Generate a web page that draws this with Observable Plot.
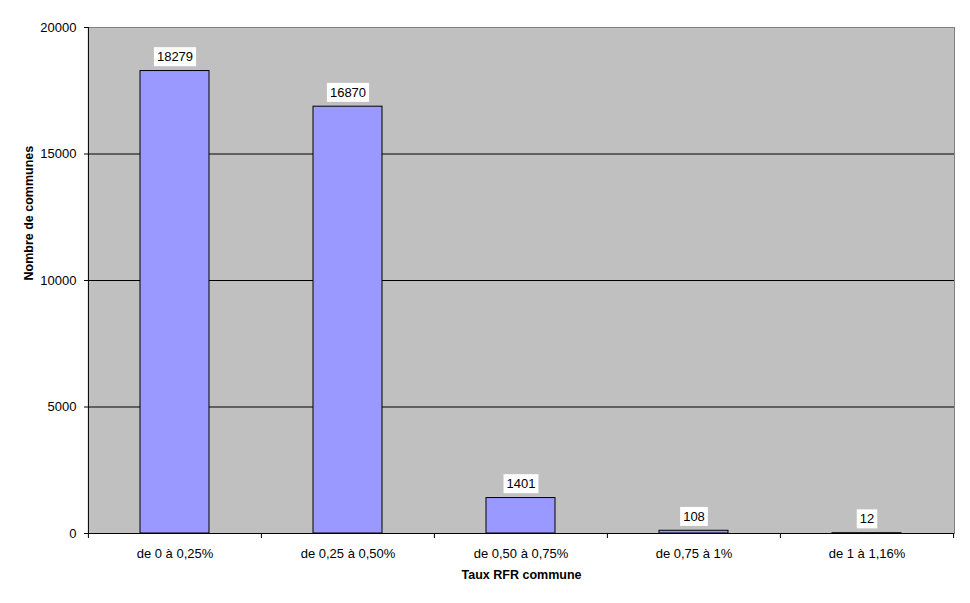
<!DOCTYPE html>
<html>
<head>
<meta charset="utf-8">
<script src="https://cdn.jsdelivr.net/npm/d3@7"></script>
<script src="https://cdn.jsdelivr.net/npm/@observablehq/plot@0.6"></script>
<style>
  body { margin: 0; background: #fff; }
  #chart svg { display: block; }
</style>
</head>
<body>
<div id="chart"></div>
<script>
const categories = ["de 0 à 0,25%", "de 0,25 à 0,50%", "de 0,50 à 0,75%", "de 0,75 à 1%", "de 1 à 1,16%"];
const counts = [18279, 16870, 1401, 108, 12];
const yTicks = [0, 5000, 10000, 15000, 20000];
const gridValues = [5000, 10000, 15000];
const xTitle = "Taux RFR commune";
const yTitle = "Nombre de communes";

const data = categories.map((c, i) => ({category: c, count: counts[i]}));

const W = 970, H = 603, mL = 88, mR = 16, mT = 27, mB = 70;
const step = (W - mL - mR) / categories.length;
const last = categories[categories.length - 1];

const chart = Plot.plot({
  width: W,
  height: H,
  marginLeft: mL,
  marginRight: mR,
  marginTop: mT,
  marginBottom: mB,
  style: {fontFamily: "'Liberation Sans', Arial, sans-serif", fontSize: "13px", color: "black", background: "white"},
  x: {domain: categories, paddingInner: 0.6, paddingOuter: 0.3, axis: null, label: null},
  y: {domain: [0, 20000], axis: null, label: null},
  marks: [
    Plot.frame({fill: "#c0c0c0", stroke: "#808080"}),
    Plot.ruleY(gridValues, {stroke: "black"}),
    Plot.barY(data, {x: "category", y: "count", fill: "#9999ff", stroke: "black", strokeWidth: 1}),
    Plot.ruleY([0], {stroke: "black"}),
    Plot.ruleX([categories[0]], {x: d => d, dx: -step / 2, stroke: "black"}),
    Plot.axisY({ticks: yTicks, tickSize: 4, tickPadding: 8, tickFormat: d => String(d), fontSize: 13, label: null}),
    Plot.axisX({ticks: categories, tickSize: 5, tickFormat: () => "", dx: -step / 2, label: null}),
    Plot.axisX({ticks: [last], tickSize: 5, tickFormat: () => "", dx: step / 2, label: null}),
    Plot.axisX({ticks: categories, tickSize: 0, tickPadding: 15, fontSize: 13, label: null}),
    Plot.text(data, {x: "category", y: "count", text: d => String(d.count), dy: -14, fontSize: 13, fill: "black", className: "value-labels"}),
    Plot.text([xTitle], {frameAnchor: "bottom", dy: 45, fontWeight: "bold", fontSize: 12.5, fill: "black"}),
    Plot.text([yTitle], {frameAnchor: "left", dx: -60, rotate: -90, fontWeight: "bold", fontSize: 12.5, fill: "black"})
  ]
});

document.getElementById("chart").appendChild(chart);

// white boxes behind value labels
const labelSet = new Set(counts.map(String));
chart.querySelectorAll("text").forEach(t => {
  if (!labelSet.has(t.textContent)) return;
  const b = t.getBBox();
  const r = document.createElementNS("http://www.w3.org/2000/svg", "rect");
  r.setAttribute("x", b.x - 3);
  r.setAttribute("y", b.y - 2);
  r.setAttribute("width", b.width + 6);
  r.setAttribute("height", b.height + 4);
  r.setAttribute("fill", "white");
  r.setAttribute("stroke", "none");
  const tr = t.getAttribute("transform");
  if (tr) r.setAttribute("transform", tr);
  t.parentNode.insertBefore(r, t);
});
</script>
</body>
</html>
